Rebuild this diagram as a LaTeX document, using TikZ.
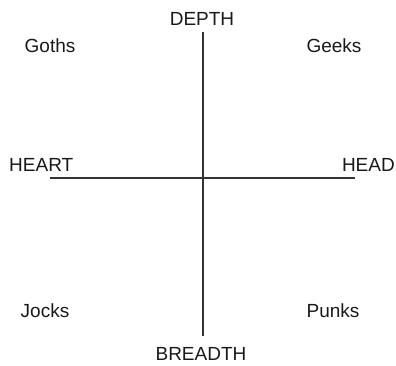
\documentclass[tikz,border=0pt]{standalone}
\usepackage{fontspec}
\setmainfont{Liberation Sans}
\begin{document}
\begin{tikzpicture}[x=1pt,y=-1pt,
  lbl/.style={inner sep=0pt, font=\fontsize{19}{22}\selectfont, text=black!90},
  axis/.style={draw=black!80, line width=1.8pt}]
\useasboundingbox (0,0) rectangle (396,366);
\node[lbl] (depth) at (202,19) {DEPTH};
\node[lbl] (breadth) at (201,354) {BREADTH};
\node[lbl,anchor=west] (heart) at (9,165) {HEART};
\node[lbl,anchor=east] (head) at (395,165) {HEAD};
\node[lbl] (goths) at (50,46) {Goths};
\node[lbl] (geeks) at (334,46) {Geeks};
\node[lbl] (jocks) at (45,311) {Jocks};
\node[lbl] (punks) at (333,311) {Punks};
\coordinate (top) at (203,32);
\coordinate (bot) at (203,336);
\coordinate (left) at (50,178);
\coordinate (right) at (355,178);
\draw[axis] (top) -- (bot);
\draw[axis] (left) -- (right);
\end{tikzpicture}
\end{document}
